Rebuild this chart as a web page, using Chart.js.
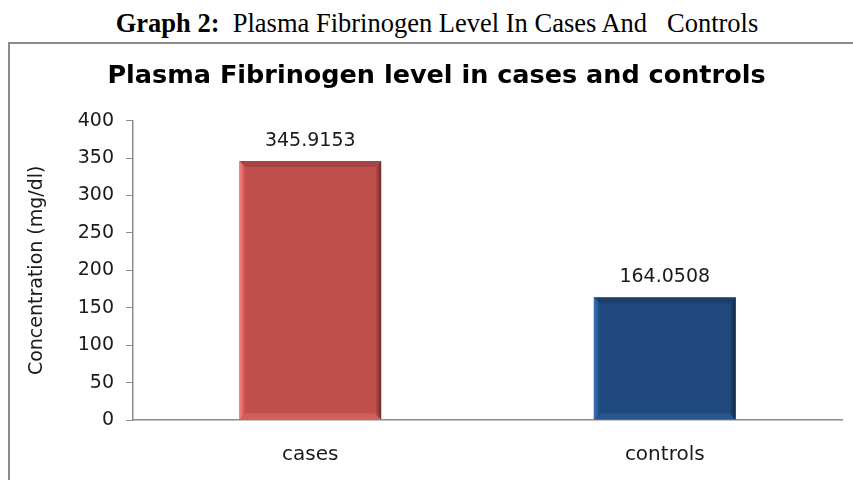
<!DOCTYPE html>
<html>
<head>
<meta charset="utf-8">
<script src="https://cdn.jsdelivr.net/npm/chart.js@4.4.1/dist/chart.umd.min.js"></script>
<style>
  body { margin: 0; background: #fff; width: 853px; height: 480px; overflow: hidden; position: relative; }
  #caption {
    position: absolute; left: 0; width: 874px; top: 8px; text-align: center;
    font-family: "Liberation Serif", "Times New Roman", serif; font-size: 26.5px; line-height: 30px;
    white-space: pre; color: #000;
  }
  #frame {
    position: absolute; left: 8px; top: 42px; width: 845px; height: 438px;
    border-left: 2px solid #8c8c8c; border-top: 2px solid #8c8c8c;
  }
  #wrap { position: absolute; left: 0; top: 0; width: 843px; height: 436px; }
</style>
</head>
<body>
<div id="caption"><b>Graph 2:</b>  Plasma Fibrinogen Level In Cases And   Controls</div>
<div id="frame"><div id="wrap"><canvas id="myChart"></canvas></div></div>
<script>
// data
var categories = ['cases', 'controls'];
var levels = [345.9153, 164.0508];
var labelsText = ['345.9153', '164.0508'];
var yTicks = [0, 50, 100, 150, 200, 250, 300, 350, 400];

// bar colours (face, light edge, dark edge)
var faceColors = ['#C0504D', '#1F497D'];
var lightEdge = ['#FF8282', '#3C73BE'];
var darkEdge = ['#6E2A28', '#0F2744'];

var FONT = '"DejaVu Sans", Arial, sans-serif';

// values written above the bars
var valueLabels = {
    id: 'valueLabels',
    afterDatasetsDraw: function (chart) {
        var ctx = chart.ctx;
        var meta = chart.getDatasetMeta(0);
        ctx.save();
        ctx.font = '19px ' + FONT;
        ctx.fillStyle = '#1a1a1a';
        ctx.textAlign = 'center';
        ctx.textBaseline = 'middle';
        meta.data.forEach(function (bar, i) {
            ctx.fillText(labelsText[i], bar.x, bar.y - 20);
        });
        ctx.restore();
    }
};

// soft bevel like the office chart
var bevel = {
    id: 'bevel',
    afterDatasetsDraw: function (chart) {
        var ctx = chart.ctx;
        var meta = chart.getDatasetMeta(0);
        var e = 6;
        ctx.save();
        meta.data.forEach(function (bar, i) {
            var l = bar.x - bar.width / 2, r = bar.x + bar.width / 2;
            var t = bar.y, b = bar.base;
            var g;
            // top (shadow)
            ctx.fillStyle = darkEdge[i];
            ctx.globalAlpha = 0.3;
            ctx.beginPath();
            ctx.moveTo(l, t); ctx.lineTo(r, t); ctx.lineTo(r - e, t + e); ctx.lineTo(l + e, t + e);
            ctx.fill();
            // bottom (light)
            ctx.fillStyle = lightEdge[i];
            ctx.globalAlpha = 0.3;
            ctx.beginPath();
            ctx.moveTo(l, b); ctx.lineTo(r, b); ctx.lineTo(r - e, b - e); ctx.lineTo(l + e, b - e);
            ctx.fill();
            ctx.globalAlpha = 1;
            // left
            g = ctx.createLinearGradient(l, 0, l + e, 0);
            g.addColorStop(0, lightEdge[i]);
            g.addColorStop(1, faceColors[i]);
            ctx.fillStyle = g;
            ctx.beginPath();
            ctx.moveTo(l, t); ctx.lineTo(l + e, t + e); ctx.lineTo(l + e, b - e); ctx.lineTo(l, b);
            ctx.fill();
            // right
            g = ctx.createLinearGradient(r - e, 0, r, 0);
            g.addColorStop(0, faceColors[i]);
            g.addColorStop(1, darkEdge[i]);
            ctx.fillStyle = g;
            ctx.beginPath();
            ctx.moveTo(r, t); ctx.lineTo(r - e, t + e); ctx.lineTo(r - e, b - e); ctx.lineTo(r, b);
            ctx.fill();
        });
        ctx.restore();
    }
};

var ctx = document.getElementById('myChart').getContext('2d');
var myChart = new Chart(ctx, {
    type: 'bar',
    data: {
        labels: categories,
        datasets: [{
            data: levels,
            backgroundColor: faceColors,
            borderWidth: 0,
            categoryPercentage: 1,
            barPercentage: 0.4
        }]
    },
    options: {
        responsive: true,
        maintainAspectRatio: false,
        animation: false,
        layout: { padding: { left: 21, right: 11, top: 0, bottom: 0 } },
        plugins: {
            legend: { display: false },
            tooltip: { enabled: false },
            title: {
                display: true,
                text: 'Plasma Fibrinogen level in cases and controls',
                color: '#000',
                font: { family: FONT, size: 25.5, weight: 'bold' },
                padding: { top: 17, bottom: 29 }
            }
        },
        scales: {
            y: {
                min: 0,
                max: 400,
                afterBuildTicks: function (scale) {
                    scale.ticks = yTicks.map(function (v) { return { value: v }; });
                },
                afterFit: function (scale) { scale.width = 102; },
                grid: { drawOnChartArea: false, drawTicks: true, tickLength: 7, color: '#8c8c8c' },
                border: { display: true, color: '#8c8c8c', width: 1.5 },
                ticks: {
                    color: '#1a1a1a', padding: 12,
                    font: { family: FONT, size: 19 }
                },
                title: {
                    display: true,
                    text: 'Concentration (mg/dl)',
                    color: '#1a1a1a',
                    font: { family: FONT, size: 19 },
                    padding: { top: -5, bottom: 0 }
                }
            },
            x: {
                afterFit: function (scale) { scale.height = 60; },
                grid: { display: false },
                border: { display: true, color: '#8c8c8c', width: 1.5 },
                ticks: {
                    color: '#1a1a1a', padding: 15,
                    font: { family: FONT, size: 20 }
                }
            }
        }
    },
    plugins: [bevel, valueLabels]
});
</script>
</body>
</html>
